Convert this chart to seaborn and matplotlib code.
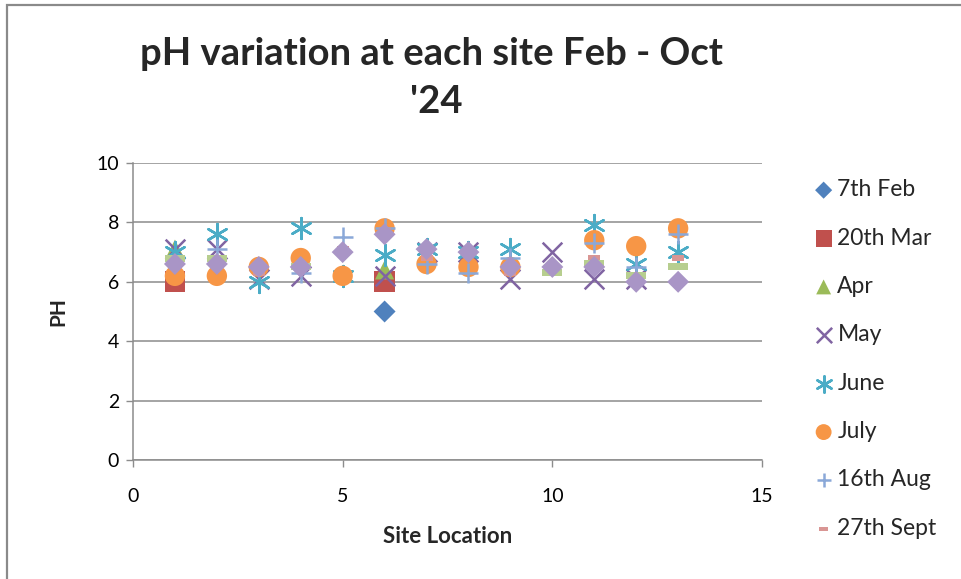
import numpy as np
import matplotlib
matplotlib.use("Agg")
import matplotlib.pyplot as plt
import seaborn as sns
from matplotlib.patches import Rectangle

nan = np.nan
sites = list(range(1, 14))

feb_7th = [nan, nan, nan, nan, nan, 5.0, nan, nan, nan, nan, nan, nan, nan]
mar_20th = [6.0, nan, nan, nan, nan, 6.0, nan, nan, nan, nan, nan, nan, nan]
apr = [7.1, nan, nan, nan, nan, 6.4, nan, nan, nan, nan, nan, nan, nan]
may = [7.1, 7.1, 6.1, 6.2, nan, 6.2, 7.0, 7.0, 6.1, 7.0, 6.1, 6.1, nan]
june = [7.0, 7.6, 6.0, 7.8, 6.2, 6.9, 7.1, 7.0, 7.1, nan, 7.9, 6.6, 7.0]
july = [6.2, 6.2, 6.5, 6.8, 6.2, 7.8, 6.6, 6.5, 6.5, nan, 7.4, 7.2, 7.8]
aug_16th = [nan, 7.1, nan, 6.3, 7.5, 7.8, 6.6, 6.3, 6.8, nan, 7.3, 6.5, 7.6]
sept_27th = [nan, nan, 6.3, nan, 7.1, 7.7, 6.8, nan, 6.3, nan, 6.8, nan, 6.8]
series_9 = [6.8, 6.8, nan, 6.5, nan, nan, nan, nan, nan, 6.3, 6.6, 6.2, 6.5]
series_10 = [6.6, 6.6, 6.5, 6.5, 7.0, 7.6, 7.1, 7.0, 6.5, 6.5, 6.5, 6.0, 6.0]

labels = ["7th Feb", "20th Mar", "Apr", "May", "June", "July", "16th Aug",
          "27th Sept", "Series 9", "Series 10"]
values = [feb_7th, mar_20th, apr, may, june, july, aug_16th, sept_27th,
          series_9, series_10]
colors = ["#4F81BD", "#C0504D", "#9BBB59", "#8064A2", "#4BACC6", "#F79646",
          "#8AA8D8", "#D99694", "#B7CE8F", "#A995C6"]

pink_dash = [(-1, -0.5), (1, -0.5), (1, 0.5), (-1, 0.5), (-1, -0.5)]
green_dash = [(-1, -0.35), (1, -0.35), (1, 0.35), (-1, 0.35), (-1, -0.35)]
markers = ["D", "s", "^", "x", (6, 2, 0), "o", "+", pink_dash, green_dash, "D"]
sizes = [125, 225, 190, 200, 225, 215, 190, 74, 207, 125]
line_art = [False, False, False, True, True, False, True, False, False, False]

sns.set_theme(style="white")
plt.rcParams["font.family"] = ["Lato", "DejaVu Sans"]

fig = plt.figure(figsize=(9.61, 5.79), dpi=100)
ax = fig.add_axes([133 / 961, 1 - 460 / 579, (762 - 133) / 961, (460 - 163) / 579])

for lab, vals, col, mk, sz, la in zip(labels, values, colors, markers, sizes, line_art):
    if la:
        sns.scatterplot(x=sites, y=vals, marker=mk, color=col, s=sz,
                        linewidth=1.8, ax=ax, label=lab, zorder=3)
    else:
        sns.scatterplot(x=sites, y=vals, marker=mk, color=col, s=sz,
                        linewidth=0, edgecolor="none", ax=ax, label=lab, zorder=3)

ax.set_xlim(0, 15)
ax.set_ylim(0, 10)
ax.set_xticks([0, 5, 10, 15])
ax.set_yticks([0, 2, 4, 6, 8, 10])
ax.yaxis.grid(True, color="#8c8c8c", linewidth=1.1)
ax.xaxis.grid(False)
ax.set_axisbelow(True)
for s in ["top", "right"]:
    ax.spines[s].set_visible(False)
for s in ["left", "bottom"]:
    ax.spines[s].set_color("#8c8c8c")
    ax.spines[s].set_linewidth(1.1)
ax.tick_params(axis="both", which="major", direction="out", length=5,
               width=1.0, color="#8c8c8c", labelsize=14, labelcolor="#000000",
               left=True, bottom=True)
ax.tick_params(axis="x", pad=15)
ax.tick_params(axis="y", pad=5)

ax.set_xlabel("Site Location", fontsize=16, fontweight="bold", labelpad=15)
ax.set_ylabel("PH", fontsize=15, fontweight="bold", labelpad=20)

leg = ax.get_legend()
if leg is not None:
    leg.remove()
handles, labs = ax.get_legend_handles_labels()
fig.legend(handles[:8], labs[:8], loc="upper left",
           bbox_to_anchor=(803 / 961, 1 - 170 / 579), frameon=False,
           fontsize=16.5, labelspacing=1.195, handletextpad=0.1,
           handlelength=1.0, markerscale=0.78, borderaxespad=0)

fig.text(431 / 961, 1 - 54 / 579, "pH variation at each site Feb - Oct",
         ha="center", va="center", fontsize=27.5, fontweight="bold")
fig.text(436 / 961, 1 - 102 / 579, "'24",
         ha="center", va="center", fontsize=27.5, fontweight="bold")

fig.add_artist(Rectangle((7 / 961, -0.2), 1.5, 1.2 - 5 / 579,
                         transform=fig.transFigure, fill=False,
                         edgecolor="#8a8a8a", linewidth=1.6, clip_on=False))

fig.savefig("out.png", dpi=100)
